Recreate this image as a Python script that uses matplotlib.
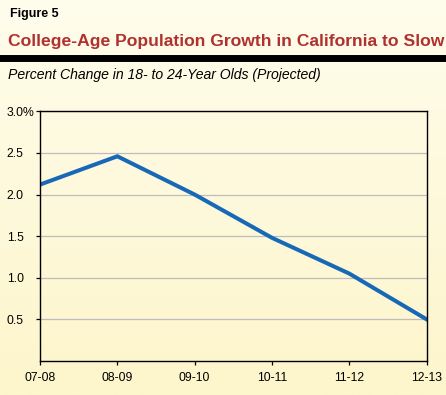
import numpy as np
import matplotlib.pyplot as plt
from matplotlib.colors import LinearSegmentedColormap

years = ["07-08", "08-09", "09-10", "10-11", "11-12", "12-13"]
pct_change = [2.12, 2.46, 2.00, 1.48, 1.05, 0.50]
y_ticks = [0.5, 1.0, 1.5, 2.0, 2.5, 3.0]
y_labels = ["0.5", "1.0", "1.5", "2.0", "2.5", "3.0%"]

plt.rcParams['font.family'] = ['Liberation Sans', 'DejaVu Sans']

fig = plt.figure(figsize=(4.46, 3.95), dpi=100)

# cream -> pale yellow background
bg = fig.add_axes([0, 0, 1, 1], zorder=-10)
cmap = LinearSegmentedColormap.from_list("bg", ["#FFFDEC", "#FDF5CB"])
bg.imshow(np.linspace(0, 1, 256).reshape(-1, 1), aspect="auto", cmap=cmap,
          extent=[0, 1, 0, 1])
bg.set_axis_off()

# header
fig.text(0.022, 0.965, "Figure 5", fontsize=9, fontweight="bold", va="center")
fig.text(0.018, 0.895, "College-Age Population Growth in California to Slow",
         fontsize=12.6, fontweight="bold", color="#B0312F", va="center")
bg.axhline(1 - 57.5 / 395, color="black", lw=5)
fig.text(0.018, 0.81, "Percent Change in 18- to 24-Year Olds (Projected)",
         fontsize=10.1, style="italic", va="center")

ax = fig.add_axes([0.0897, 0.0861, 0.867, 0.632])
ax.patch.set_alpha(0)
x = np.arange(len(years))
ax.plot(x, pct_change, color="#1769B8", lw=2.9, solid_joinstyle="miter")

ax.set_xlim(0, len(years) - 1)
ax.set_ylim(0, 3.0)
ax.set_xticks(x)
ax.set_xticklabels(years, fontsize=8.8)
ax.set_yticks(y_ticks)
ax.set_yticklabels(y_labels, fontsize=8.8)
ax.yaxis.grid(True, color="#BDBDBD", lw=0.9)
ax.set_axisbelow(True)
ax.tick_params(length=3, width=0.9)
ax.tick_params(axis="x", pad=5)
# y labels left-aligned near the figure edge
ax.tick_params(axis="y", pad=21)
for lab in ax.get_yticklabels():
    lab.set_horizontalalignment("left")
for s in ax.spines.values():
    s.set_linewidth(1.0)

fig.savefig("out.png", dpi=100)
